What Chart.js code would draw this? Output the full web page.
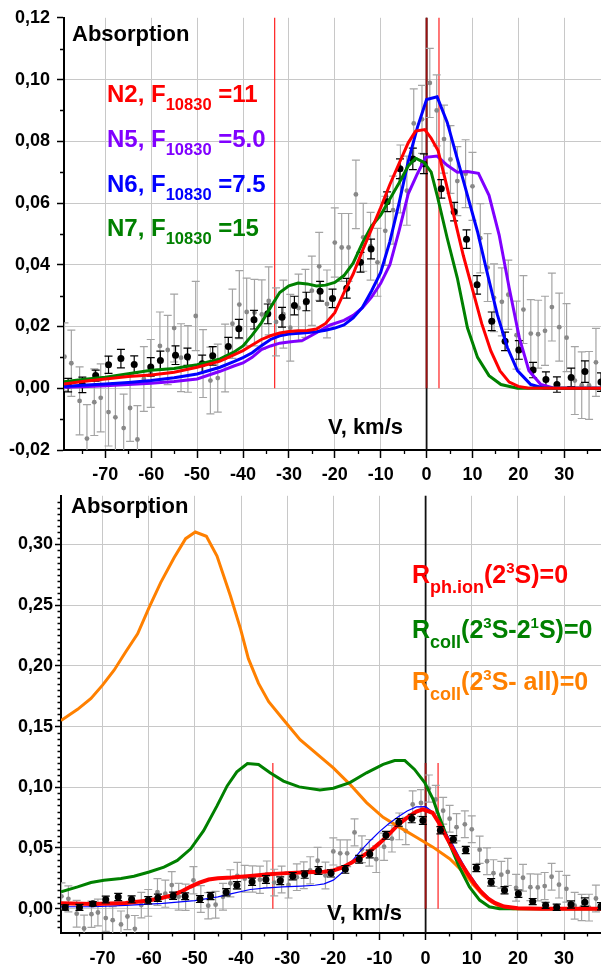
<!DOCTYPE html>
<html>
<head>
<meta charset="utf-8">
<script src="https://cdn.jsdelivr.net/npm/chart.js@4.4.1/dist/chart.umd.min.js"></script>
<style>
    body { margin: 0; background: #fff; width: 601px; height: 967px; overflow: hidden; position: relative; }
    canvas { position: absolute; left: 0; }
    #topChart { top: 0; }
    #bottomChart { top: 483px; }
</style>
</head>
<body>
<canvas id="topChart" width="601" height="483"></canvas>
<canvas id="bottomChart" width="601" height="484"></canvas>
<script>
const FONT = "'Liberation Sans', Arial, sans-serif";

// Observed profile (same data in both panels)
const greyV = [-78.9, -77.4, -75.6, -74.0, -72.4, -71.0, -69.3, -67.8, -66.0, -64.6, -63.0, -61.6, -60.1, -58.1, -56.4, -55.0, -53.5, -52.0, -50.3, -48.7,
    -47.1, -45.5, -43.9, -42.3, -40.8, -39.2, -37.5, -35.9, -34.4, -32.8, -31.2, -29.7, -27.9, -26.4, -25.0, -23.4, -21.7, -20.0, -18.5, -17.0,
    -15.4, -13.8, -12.2, -10.7, -9.0, -7.3, -5.7, -4.3, -2.8, -1.0, 0.7, 2.2, 3.8, 5.2, 6.7, 8.5, 10.0, 11.7, 13.3, 14.7,
    16.4, 17.8, 19.6, 21.1, 22.7, 24.3, 25.8, 27.3, 28.9, 30.5, 32.3, 33.8, 35.4, 36.9];
const greyA = [0.0102, 0.0081, -0.0041, -0.0163, -0.0045, -0.0031, -0.0077, -0.0094, -0.0129, -0.0064, -0.0166, 0.0030, 0.0048, 0.0137, 0.0124, 0.0195, 0.0099, 0.0095, 0.0234, 0.0080,
    0.0025, 0.0033, 0.0098, 0.0209, 0.0271, 0.0247, 0.0245, 0.0239, 0.0283, 0.0215, 0.0240, 0.0196, 0.0260, 0.0275, 0.0316, 0.0395, 0.0273, 0.0472, 0.0456, 0.0456,
    0.0628, 0.0489, 0.0460, 0.0408, 0.0510, 0.0577, 0.0678, 0.0640, 0.0858, 0.0871, 0.0989, 0.0900, 0.0807, 0.0741, 0.0671, 0.0695, 0.0654, 0.0486, 0.0391, 0.0293,
    0.0280, 0.0303, 0.0172, 0.0255, 0.0177, 0.0175, 0.0186, 0.0263, 0.0198, 0.0164, 0.0025, 0.0010, 0.0009, 0.0084];
const greyErr = [0.0110, 0.0107, 0.0110, 0.0110, 0.0108, 0.0110, 0.0110, 0.0112, 0.0110, 0.0108, 0.0110, 0.0105, 0.0110, 0.0110, 0.0112, 0.0110, 0.0110, 0.0108, 0.0112, 0.0110,
    0.0108, 0.0110, 0.0110, 0.0112, 0.0110, 0.0110, 0.0108, 0.0112, 0.0110, 0.0110, 0.0110, 0.0108, 0.0110, 0.0110, 0.0112, 0.0110, 0.0110, 0.0112, 0.0110, 0.0110,
    0.0111, 0.0110, 0.0110, 0.0110, 0.0112, 0.0110, 0.0110, 0.0112, 0.0112, 0.0110, 0.0112, 0.0115, 0.0110, 0.0110, 0.0112, 0.0110, 0.0110, 0.0112, 0.0110, 0.0110,
    0.0110, 0.0112, 0.0110, 0.0110, 0.0110, 0.0110, 0.0112, 0.0110, 0.0110, 0.0110, 0.0110, 0.0108, 0.0110, 0.0110];

const blackV = [-78.1, -75.0, -72.1, -69.3, -66.6, -63.7, -60.1, -58.0, -54.7, -52.1, -48.9, -46.6, -43.2, -40.9, -37.6, -34.6, -31.5, -28.8, -26.2, -23.2,
    -20.5, -17.4, -14.4, -12.1, -8.6, -5.8, -3.0, -0.6, 3.2, 6.0, 8.7, 11.0, 14.2, 17.1, 20.1, 23.2, 26.0, 28.4, 31.5, 34.5, 38.0];
const blackA = [0.0010, 0.0011, 0.0041, 0.0076, 0.0096, 0.0077, 0.0069, 0.0090, 0.0107, 0.0102, 0.0079, 0.0105, 0.0135, 0.0193, 0.0222, 0.0241, 0.0230, 0.0268, 0.0281, 0.0314,
    0.0291, 0.0324, 0.0408, 0.0451, 0.0604, 0.0711, 0.0743, 0.0727, 0.0646, 0.0572, 0.0483, 0.0335, 0.0217, 0.0152, 0.0124, 0.0059, 0.0028, 0.0012, 0.0035, 0.0054, 0.0020];
const blackErr = [0.0022, 0.0025, 0.0018, 0.0028, 0.0030, 0.0028, 0.0030, 0.0030, 0.0030, 0.0028, 0.0028, 0.0030, 0.0030, 0.0030, 0.0030, 0.0032, 0.0032, 0.0030, 0.0030, 0.0032,
    0.0030, 0.0032, 0.0032, 0.0032, 0.0032, 0.0032, 0.0035, 0.0032, 0.0030, 0.0030, 0.0030, 0.0030, 0.0030, 0.0030, 0.0030, 0.0025, 0.0025, 0.0025, 0.0030, 0.0035, 0.0030];

// Top panel models
const n2V = [-79, -75, -70, -65, -60, -55, -50, -45, -42, -40, -38, -36, -34, -32, -30, -28, -26, -24, -22, -20,
    -18, -16, -14, -12, -10, -8, -6, -4, -2.4, -0.4, 1, 2.5, 4, 6, 8, 10, 12, 14, 16, 18, 20, 22, 30, 38];
const n2A = [0.0014, 0.0022, 0.0030, 0.0038, 0.0043, 0.0052, 0.0068, 0.0088, 0.0108, 0.0122, 0.0140, 0.0158, 0.0170, 0.0179, 0.0184, 0.0186, 0.0187, 0.0192, 0.0210, 0.0245,
    0.0310, 0.0370, 0.0445, 0.0515, 0.0585, 0.0660, 0.0728, 0.0795, 0.0833, 0.0838, 0.0810, 0.0770, 0.0680, 0.0555, 0.0430, 0.0320, 0.0210, 0.0121, 0.0056, 0.0020, 0.0006, 0.0001, 0, 0];

const n5V = [-79, -75, -70, -65, -60, -55, -50, -45, -42, -40, -38, -36, -34, -32, -30, -27, -24, -21, -18, -16,
    -14, -12, -10, -8, -6, -4, -2, -0.2, 2.3, 4.5, 6.7, 8.9, 11.3, 13.6, 15.8, 18.0, 20.2, 22.3, 24.9, 27.8, 32, 38];
const n5A = [0.0003, 0.0005, 0.0008, 0.0012, 0.0016, 0.0022, 0.0030, 0.0055, 0.0072, 0.0082, 0.0100, 0.0125, 0.0137, 0.0146, 0.0150, 0.0155, 0.0180, 0.0205, 0.0220, 0.0236,
    0.0260, 0.0295, 0.0340, 0.0400, 0.0510, 0.0630, 0.0695, 0.0748, 0.0752, 0.0722, 0.0700, 0.0702, 0.0696, 0.0625, 0.0497, 0.0325, 0.0164, 0.0057, 0.0012, 0, 0, 0];

const n6V = [-79, -75, -70, -65, -60, -55, -50, -45, -42, -40, -38, -36, -34, -32, -30, -27, -24, -22, -20, -18,
    -16, -14, -12, -10, -8, -6, -4, -2, 0, 2.3, 4.5, 6.7, 8.9, 11.1, 13.3, 15.4, 17.6, 19.8, 22.7, 25.6, 30, 38];
const n6A = [0.0006, 0.0010, 0.0014, 0.0019, 0.0025, 0.0034, 0.0046, 0.0068, 0.0086, 0.0099, 0.0115, 0.0138, 0.0158, 0.0170, 0.0176, 0.0179, 0.0183, 0.0188, 0.0195, 0.0205,
    0.0228, 0.0262, 0.0315, 0.0375, 0.0475, 0.0600, 0.0735, 0.0845, 0.0935, 0.0944, 0.0861, 0.0743, 0.0625, 0.0507, 0.0368, 0.0239, 0.0132, 0.0057, 0.0012, 0, 0, 0];

const n7V = [-79, -75, -70, -65, -60, -55, -50, -45, -42, -40, -38, -36, -34, -32, -30, -28, -26, -24, -22, -20,
    -18, -16, -14, -12, -10, -8, -6, -4, -2.4, -0.6, 1, 2.3, 4.5, 6.7, 8.9, 11.1, 13.6, 16.2, 19.8, 25, 30, 38];
const n7A = [0.0021, 0.0028, 0.0036, 0.0047, 0.0058, 0.0064, 0.0076, 0.0095, 0.0117, 0.0137, 0.0172, 0.0212, 0.0262, 0.0310, 0.0332, 0.0341, 0.0338, 0.0331, 0.0334, 0.0343,
    0.0365, 0.0405, 0.0470, 0.0525, 0.0561, 0.0613, 0.0665, 0.0720, 0.0745, 0.0732, 0.0700, 0.0625, 0.0486, 0.0357, 0.0196, 0.0100, 0.0041, 0.0012, 0, 0, 0, 0];

// Bottom panel models
const phIonV = [-79, -72, -65, -60, -57, -55, -53, -51, -49, -47, -45, -42, -38, -34, -30, -26, -22, -20, -18, -16,
    -14, -12, -10, -8, -6, -4, -2, -0.6, 1.5, 3, 4.5, 6, 7.5, 9, 10.5, 12, 13.5, 15, 17, 20, 25, 38];
const phIonA = [0.0044, 0.0038, 0.0047, 0.0068, 0.0090, 0.0110, 0.0140, 0.0180, 0.0215, 0.0240, 0.0250, 0.0257, 0.0270, 0.0283, 0.0293, 0.0300, 0.0305, 0.0315, 0.0340, 0.0380,
    0.0425, 0.0475, 0.0540, 0.0610, 0.0690, 0.0750, 0.0800, 0.0818, 0.0790, 0.0700, 0.0590, 0.0485, 0.0385, 0.0295, 0.0210, 0.0140, 0.0085, 0.0048, 0.0018, 0.0003, 0, 0];

const baseV = [-79, -72, -65, -57, -50, -45, -42, -38, -35, -31, -27, -24, -22, -20, -18, -16, -14, -12, -10, -8,
    -6, -4, -2, 0, 1.6, 3, 4.5, 6, 7.3, 9, 10.2, 12, 13.1, 14.5, 16, 18, 20, 38];
const baseA = [0.0016, 0.0016, 0.0027, 0.0044, 0.0067, 0.0098, 0.0124, 0.0158, 0.0170, 0.0180, 0.0186, 0.0193, 0.0205, 0.0235, 0.0300, 0.0390, 0.0480, 0.0560, 0.0635, 0.0700,
    0.0755, 0.0805, 0.0838, 0.0840, 0.0795, 0.0710, 0.0616, 0.0520, 0.0425, 0.0310, 0.0248, 0.0150, 0.0112, 0.0060, 0.0030, 0.0010, 0, 0];

const coll21V = [-79, -75.4, -72.5, -69.7, -66, -63.2, -59.9, -56.7, -53.8, -50.9, -48.1, -45.2, -43, -40.9, -38.6, -36.2, -33.7, -30.8, -27.4, -22.9,
    -20, -16.4, -12.8, -9.2, -6.7, -4.5, -2.4, -0.2, 1.6, 3, 5.2, 7.3, 9.5, 11.7, 13.8, 16, 20, 38];
const coll21A = [0.0139, 0.0180, 0.0216, 0.0234, 0.0248, 0.0267, 0.0302, 0.0343, 0.0398, 0.0493, 0.0643, 0.0847, 0.1011, 0.1127, 0.1196, 0.1188, 0.1119, 0.1051, 0.1003, 0.0978,
    0.0992, 0.1038, 0.1119, 0.1188, 0.1220, 0.1220, 0.1147, 0.1038, 0.0902, 0.0752, 0.0534, 0.0343, 0.0180, 0.0071, 0.0016, 0, 0, 0];

const collAllV = [-79, -75.4, -72.5, -70, -67.5, -65, -62.4, -59.9, -57.4, -54.5, -52, -49.9, -47.5, -45.2, -42.3, -40.1, -38.4, -36.2, -34, -30.8,
    -27.2, -20, -16.4, -12.8, -9.2, -5.6, -2, 1.6, 5.2, 6.7, 8.8, 10.4, 12.4, 14.2, 16.4, 19, 38];
const collAllA = [0.1550, 0.1642, 0.1732, 0.1841, 0.1964, 0.2114, 0.2263, 0.2481, 0.2685, 0.2890, 0.3047, 0.3102, 0.3067, 0.2904, 0.2577, 0.2304, 0.2059, 0.1855, 0.1705, 0.1556,
    0.1392, 0.1160, 0.1024, 0.0874, 0.0752, 0.0670, 0.0588, 0.0507, 0.0412, 0.0357, 0.0275, 0.0194, 0.0112, 0.0057, 0.0010, 0, 0];

// Axes
const xTicks = [-70, -60, -50, -40, -30, -20, -10, 0, 10, 20, 30];
const xMinor = [-75, -65, -55, -45, -35, -25, -15, -5, 5, 15, 25, 35];
const topYTicks = [-0.02, 0, 0.02, 0.04, 0.06, 0.08, 0.10, 0.12];
const topYMinor = [-0.01, 0.01, 0.03, 0.05, 0.07, 0.09, 0.11];
const botYTicks = [0, 0.05, 0.10, 0.15, 0.20, 0.25, 0.30];
const botYMinor = [];
for (let i = -3; i <= 67; i++) {
    if (i % 10 !== 0) botYMinor.push(i * 0.005);
}
const markerV = [-33.1, 2.7];

function pts(xs, ys) {
    return xs.map((x, i) => ({ x: x, y: ys[i] }));
}

// error bars drawn under each observed dataset
const errorBars = {
    id: 'errorBars',
    beforeDatasetDraw(chart, args) {
        const ds = chart.data.datasets[args.index];
        if (!ds.errY) return;
        const ctx = chart.ctx;
        const a = chart.chartArea;
        const xs = chart.scales.x, ys = chart.scales.y;
        ctx.save();
        ctx.beginPath();
        ctx.rect(a.left, a.top, a.right - a.left, a.bottom - a.top);
        ctx.clip();
        ctx.strokeStyle = ds.errColor;
        ctx.lineWidth = ds.errWidth;
        ctx.beginPath();
        ds.data.forEach((p, i) => {
            const px = xs.getPixelForValue(p.x);
            const y1 = ys.getPixelForValue(p.y + ds.errY[i]);
            const y2 = ys.getPixelForValue(p.y - ds.errY[i]);
            const c = ds.capHalf;
            ctx.moveTo(px, y1); ctx.lineTo(px, y2);
            ctx.moveTo(px - c, y1); ctx.lineTo(px + c, y1);
            ctx.moveTo(px - c, y2); ctx.lineTo(px + c, y2);
        });
        ctx.stroke();
        ctx.restore();
    }
};

// vertical reference lines
const refLines = {
    id: 'refLines',
    beforeDatasetsDraw(chart, args, opts) {
        const ctx = chart.ctx;
        const a = chart.chartArea;
        const xs = chart.scales.x, ys = chart.scales.y;
        const y0 = ys.getPixelForValue(0);
        const yTop = ys.getPixelForValue(opts.top);
        ctx.save();
        ctx.strokeStyle = '#ff2020';
        ctx.lineWidth = 1.2;
        opts.markers.forEach(v => {
            const px = xs.getPixelForValue(v);
            ctx.beginPath(); ctx.moveTo(px, yTop); ctx.lineTo(px, y0); ctx.stroke();
        });
        const x0 = xs.getPixelForValue(0);
        ctx.lineWidth = 1.8;
        ctx.strokeStyle = '#111';
        ctx.beginPath(); ctx.moveTo(x0, a.top); ctx.lineTo(x0, a.bottom); ctx.stroke();
        ctx.strokeStyle = '#9c1010';
        ctx.beginPath(); ctx.moveTo(x0, yTop); ctx.lineTo(x0, y0); ctx.stroke();
        ctx.restore();
    }
};

// small ticks between the labelled ones
const minorTicks = {
    id: 'minorTicks',
    afterDraw(chart, args, opts) {
        const ctx = chart.ctx;
        const a = chart.chartArea;
        const xs = chart.scales.x, ys = chart.scales.y;
        ctx.save();
        ctx.strokeStyle = '#000';
        ctx.lineWidth = 1.3;
        ctx.beginPath();
        opts.x.forEach(v => {
            const px = Math.round(xs.getPixelForValue(v)) + 0.5;
            ctx.moveTo(px, a.bottom); ctx.lineTo(px, a.bottom + opts.len);
        });
        opts.y.forEach(v => {
            const py = Math.round(ys.getPixelForValue(v)) + 0.5;
            ctx.moveTo(a.left, py); ctx.lineTo(a.left - opts.len, py);
        });
        ctx.stroke();
        ctx.restore();
    }
};

// labels with sub/superscripts
const richText = {
    id: 'richText',
    afterDraw(chart, args, opts) {
        const ctx = chart.ctx;
        ctx.save();
        ctx.textBaseline = 'alphabetic';
        ctx.textAlign = 'left';
        opts.items.forEach(item => {
            let cx = item.x;
            ctx.fillStyle = item.color;
            item.parts.forEach(p => {
                ctx.font = 'bold ' + p[1] + 'px ' + FONT;
                ctx.fillText(p[0], cx, item.y + (p[2] || 0));
                cx += ctx.measureText(p[0]).width;
            });
        });
        ctx.restore();
    }
};

function obsSets(blackOrder) {
    return [
        {
            data: pts(greyV, greyA), pointRadius: 2.4, backgroundColor: '#888', borderWidth: 0,
            errY: greyErr, errColor: '#a4a4a4', errWidth: 1.2, capHalf: 4, order: 10
        },
        {
            data: pts(blackV, blackA), pointRadius: 3.5, backgroundColor: '#000', borderWidth: 0,
            errY: blackErr, errColor: '#000', errWidth: 1.2, capHalf: 4, order: blackOrder
        }
    ];
}

function curve(xs, ys, color, width, order) {
    return {
        data: pts(xs, ys), showLine: true, pointRadius: 0, borderColor: color, borderWidth: width,
        tension: 0, fill: false, order: order
    };
}

function axes(yMin, yMax, yTicks, hideTop, yWidth, xHeight, yTickLen, yPad, xTickLen, xPad) {
    const tickFont = { family: FONT, size: 18, weight: 'bold' };
    return {
        x: {
            type: 'linear', min: -79, max: 38,
            afterBuildTicks: s => { s.ticks = xTicks.map(v => ({ value: v })); },
            afterFit: s => { s.height = xHeight; },
            ticks: { color: '#000', font: tickFont, padding: xPad, autoSkip: false, maxRotation: 0, callback: v => String(v) },
            grid: { color: '#c8c8c8', lineWidth: 1, tickColor: '#000', tickLength: xTickLen, tickWidth: 1.5 },
            border: { color: '#000', width: 2 }
        },
        y: {
            type: 'linear', min: yMin, max: yMax,
            afterBuildTicks: s => { s.ticks = yTicks.map(v => ({ value: v })); },
            afterFit: s => { s.width = yWidth; },
            ticks: { color: '#000', font: tickFont, padding: yPad, callback: v => v.toFixed(2).replace('.', ',') },
            grid: {
                color: c => (hideTop && c.tick && Math.abs(c.tick.value - yMax) < 1e-9) ? 'rgba(0,0,0,0)' : '#c8c8c8',
                lineWidth: 1, tickColor: '#000', tickLength: yTickLen, tickWidth: 1.5
            },
            border: { color: '#000', width: 2 }
        }
    };
}

// Upper panel
new Chart(document.getElementById('topChart').getContext('2d'), {
    type: 'scatter',
    data: {
        datasets: [
            ...obsSets(8),
            curve(n5V, n5A, '#8000ff', 3, 4),
            curve(n6V, n6A, '#0000ff', 3, 3),
            curve(n7V, n7A, '#008000', 3, 2),
            curve(n2V, n2A, '#ff0000', 3, 1)
        ]
    },
    options: {
        responsive: false,
        animation: false,
        devicePixelRatio: 1,
        events: [],
        layout: { autoPadding: false, padding: { top: 15, right: 0, bottom: 0, left: 0 } },
        scales: axes(-0.02, 0.12, topYTicks, true, 64, 33, 7, 7, 8, 6),
        plugins: {
            legend: { display: false },
            tooltip: { enabled: false },
            refLines: { markers: markerV, top: 0.12 },
            minorTicks: { x: xMinor, y: topYMinor, len: 4 },
            richText: {
                items: [
                    { x: 72, y: 41, color: '#000', parts: [['Absorption', 22]] },
                    { x: 328, y: 434, color: '#000', parts: [['V, km/s', 22]] },
                    { x: 107, y: 102, color: '#ff0000', parts: [['N2, F', 24], ['10830', 16.5, 8], [' =11', 24]] },
                    { x: 107, y: 146.5, color: '#8000ff', parts: [['N5, F', 24], ['10830', 16.5, 8], [' =5.0', 24]] },
                    { x: 107, y: 191.5, color: '#0000ff', parts: [['N6, F', 24], ['10830', 16.5, 8], [' =7.5', 24]] },
                    { x: 107, y: 235.5, color: '#008000', parts: [['N7, F', 24], ['10830', 16.5, 8], [' =15', 24]] }
                ]
            }
        }
    },
    plugins: [errorBars, refLines, minorTicks, richText]
});

// Lower panel
new Chart(document.getElementById('bottomChart').getContext('2d'), {
    type: 'scatter',
    data: {
        datasets: [
            ...obsSets(0),
            curve(collAllV, collAllA, '#ff8000', 3, 5),
            curve(coll21V, coll21A, '#008000', 3, 4),
            curve(baseV, baseA, '#0000ff', 1.2, 3),
            curve(phIonV, phIonA, '#ff0000', 4, 2)
        ]
    },
    options: {
        responsive: false,
        animation: false,
        devicePixelRatio: 1,
        events: [],
        layout: { autoPadding: false, padding: { top: 11, right: 0, bottom: 0, left: 0 } },
        scales: axes(-0.02, 0.34, botYTicks, false, 61, 34, 6, 2, 7, 8),
        plugins: {
            legend: { display: false },
            tooltip: { enabled: false },
            refLines: { markers: markerV, top: 0.12 },
            minorTicks: { x: xMinor, y: botYMinor, len: 3.5 },
            richText: {
                items: [
                    { x: 71, y: 29.7, color: '#000', parts: [['Absorption', 22]] },
                    { x: 327, y: 437, color: '#000', parts: [['V, km/s', 22]] },
                    { x: 412, y: 100.3, color: '#ff0000', parts: [['R', 25], ['ph.ion', 18, 9.5], ['(2', 25], ['3', 15, -10], ['S)=0', 25]] },
                    { x: 412, y: 155.3, color: '#008000', parts: [['R', 25], ['coll', 18, 10], ['(2', 25], ['3', 15, -10], ['S-2', 25], ['1', 15, -10], ['S)=0', 25]] },
                    { x: 412, y: 207, color: '#ff8000', parts: [['R', 25], ['coll', 18, 10], ['(2', 25], ['3', 15, -10], ['S- all', 25], [')=0', 25]] }
                ]
            }
        }
    },
    plugins: [errorBars, refLines, minorTicks, richText]
});
</script>
</body>
</html>
